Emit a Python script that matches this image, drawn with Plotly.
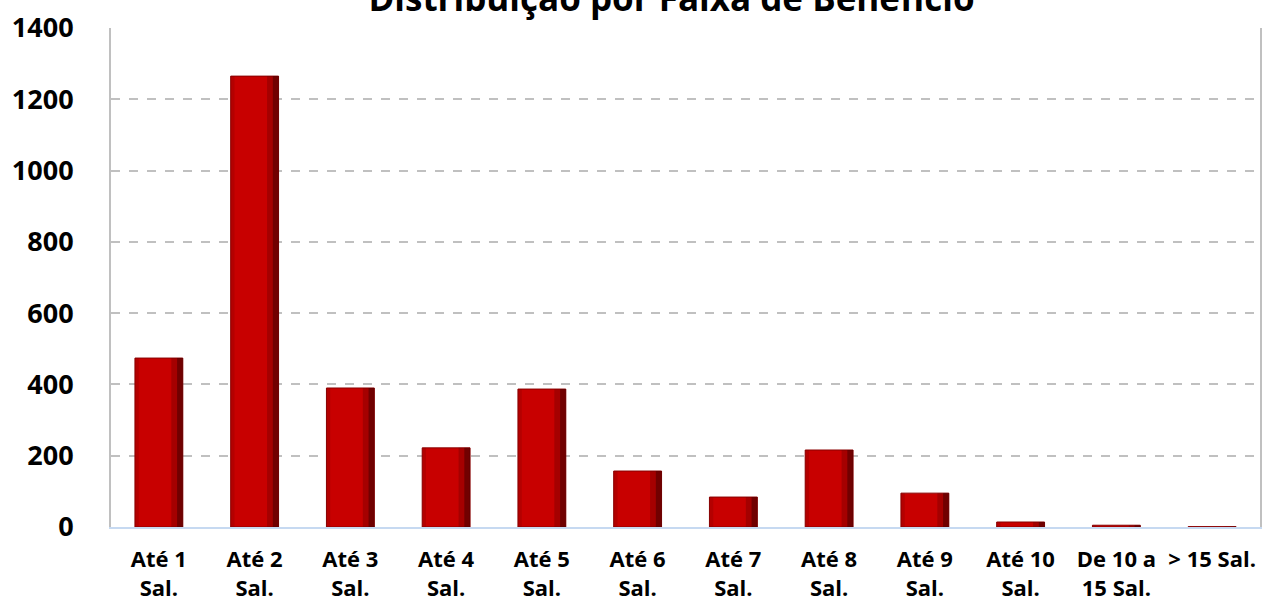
import plotly.graph_objects as go

categories = ["Até 1<br>Sal.", "Até 2<br>Sal.", "Até 3<br>Sal.", "Até 4<br>Sal.", "Até 5<br>Sal.",
              "Até 6<br>Sal.", "Até 7<br>Sal.", "Até 8<br>Sal.", "Até 9<br>Sal.", "Até 10<br>Sal.",
              "De 10 a<br>15 Sal.", "> 15 Sal."]
values = [474, 1265, 390, 222, 387, 157, 84, 216, 95, 14, 5, 1]
y_ticks = [0, 200, 400, 600, 800, 1000, 1200, 1400]
title_text = "Distribuição por Faixa de Benefício"

FONT = "Open Sans"

fig = go.Figure()
# main bar body
fig.add_trace(go.Bar(x=categories, y=values, width=0.5,
                     marker=dict(color="#c80000", line=dict(color="#8a0000", width=1)),
                     showlegend=False, hoverinfo="x+y"))
# shading strips to mimic the gradient on the right side
fig.add_trace(go.Bar(x=categories, y=values, width=0.12, offset=0.13,
                     marker=dict(color="rgba(100,0,0,0.35)", line=dict(width=0)),
                     showlegend=False, hoverinfo="skip"))
fig.add_trace(go.Bar(x=categories, y=values, width=0.06, offset=0.19,
                     marker=dict(color="rgba(50,0,0,0.45)", line=dict(width=0)),
                     showlegend=False, hoverinfo="skip"))
fig.add_trace(go.Bar(x=categories, y=values, width=0.04, offset=-0.25,
                     marker=dict(color="rgba(120,0,0,0.25)", line=dict(width=0)),
                     showlegend=False, hoverinfo="skip"))

fig.update_layout(
    width=1267, height=602,
    margin=dict(l=111, r=7, t=28, b=75),
    paper_bgcolor="white", plot_bgcolor="white",
    barmode="overlay",
    title=dict(text=title_text, x=0.530, xanchor="center", xref="container",
               y=1.0 - 11 / 602, yanchor="bottom", yref="container",
               font=dict(family=FONT, size=35, color="black", weight="bold")),
    xaxis=dict(
        tickfont=dict(family=FONT, size=22, color="black", weight="bold"),
        showline=True, linecolor="#c6d9f1", linewidth=2,
        showgrid=False, ticks="", ticklabelstandoff=12, automargin=False,
    ),
    yaxis=dict(
        range=[0, 1400], tickvals=y_ticks,
        tickfont=dict(family=FONT, size=27, color="black", weight="bold"),
        showgrid=True, gridcolor="#c0c0c0", griddash="dash", gridwidth=2,
        showline=True, linecolor="#c0c0c0", linewidth=2, mirror=True,
        zeroline=False, ticks="", ticklabelstandoff=30, automargin=False,
    ),
)

fig.write_html("out.html", config={"displayModeBar": False},
               post_script="document.body.style.margin='0';document.body.style.overflow='hidden';")
